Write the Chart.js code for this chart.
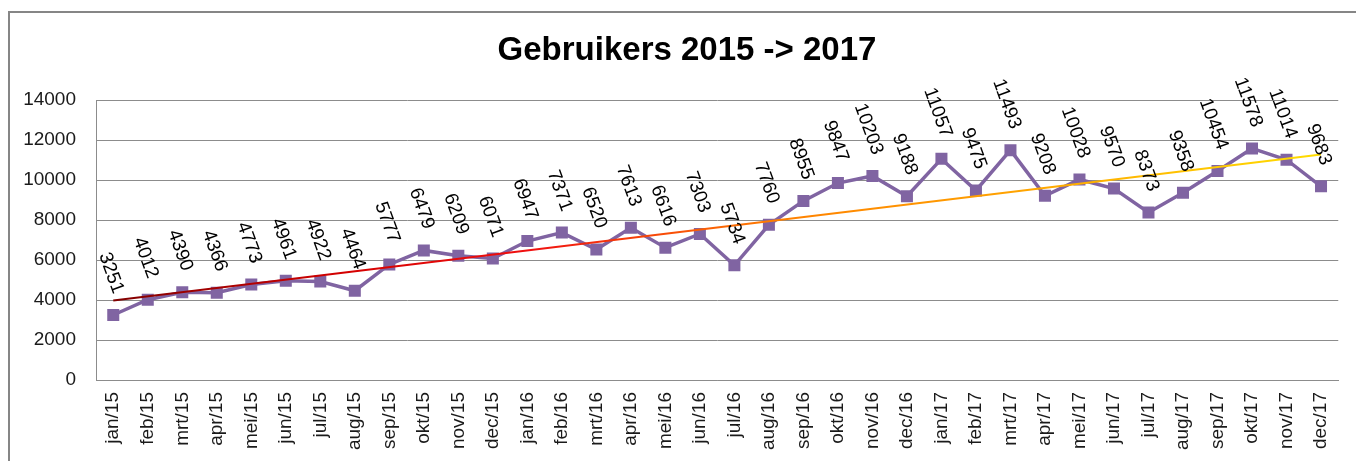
<!DOCTYPE html>
<html>
<head>
<meta charset="utf-8">
<script src="https://cdn.jsdelivr.net/npm/chart.js@4"></script>
<style>
html, body { margin: 0; padding: 0; background: #fff; }
canvas { display: block; }
</style>
</head>
<body>
<canvas id="grafiek" width="1356" height="461"></canvas>
<script>
const maanden = ['jan/15', 'feb/15', 'mrt/15', 'apr/15', 'mei/15', 'jun/15', 'jul/15', 'aug/15', 'sep/15', 'okt/15', 'nov/15', 'dec/15',
    'jan/16', 'feb/16', 'mrt/16', 'apr/16', 'mei/16', 'jun/16', 'jul/16', 'aug/16', 'sep/16', 'okt/16', 'nov/16', 'dec/16',
    'jan/17', 'feb/17', 'mrt/17', 'apr/17', 'mei/17', 'jun/17', 'jul/17', 'aug/17', 'sep/17', 'okt/17', 'nov/17', 'dec/17'];
const gebruikers = [3251, 4012, 4390, 4366, 4773, 4961, 4922, 4464, 5777, 6479, 6209, 6071,
    6947, 7371, 6520, 7613, 6616, 7303, 5734, 7760, 8955, 9847, 10203, 9188,
    11057, 9475, 11493, 9208, 10028, 9570, 8373, 9358, 10454, 11578, 11014, 9683];
const trendPunten = [3970, 11280];
const yTicks = [0, 2000, 4000, 6000, 8000, 10000, 12000, 14000];
const titel = 'Gebruikers 2015 -> 2017';

const PAARS = '#8064A2';
const GRID = '#8c8c8c';
const FONT = '"Liberation Sans", Arial, sans-serif';

// kader rond de hele grafiek + titel
const kader = {
    id: 'kader',
    beforeDraw(chart) {
        const ctx = chart.ctx;
        ctx.save();
        ctx.strokeStyle = '#868686'; ctx.lineWidth = 2;
        ctx.strokeRect(9, 12, 1400, 500);
        ctx.fillStyle = '#000';
        ctx.font = 'bold 33px ' + FONT;
        ctx.textAlign = 'center'; ctx.textBaseline = 'middle';
        ctx.fillText(titel, 687, 51);
        ctx.restore();
    }
};

// waarden boven de punten, schuin gedraaid
const labels = {
    id: 'labels',
    afterDatasetsDraw(chart) {
        const ctx = chart.ctx;
        const meta = chart.getDatasetMeta(0);
        ctx.save();
        ctx.fillStyle = '#000';
        ctx.font = '19px ' + FONT;
        ctx.textAlign = 'right'; ctx.textBaseline = 'middle';
        meta.data.forEach((p, i) => {
            ctx.save();
            ctx.translate(p.x + 5, p.y - 22);
            ctx.rotate(70 * Math.PI / 180);
            ctx.fillText(String(gebruikers[i]), 0, 0);
            ctx.restore();
        });
        ctx.restore();
    }
};

const trendKleur = c => {
    const a = c.chart.chartArea;
    if (!a) return '#d00';
    const g = c.chart.ctx.createLinearGradient(a.left, 0, a.right, 0);
    g.addColorStop(0, '#7a0000');
    g.addColorStop(0.2, '#d40000');
    g.addColorStop(0.35, '#f01010');
    g.addColorStop(0.55, '#ff8000');
    g.addColorStop(0.75, '#ffa500');
    g.addColorStop(1, '#ffe000');
    return g;
};

new Chart(document.getElementById('grafiek'), {
    type: 'line',
    data: {
        labels: maanden,
        datasets: [
            {
                data: gebruikers, order: 1,
                borderColor: PAARS, backgroundColor: PAARS, borderWidth: 3.5,
                pointStyle: 'rect', pointRadius: 8.5, pointBorderWidth: 0,
                tension: 0
            },
            {
                data: [{ x: maanden[0], y: trendPunten[0] }, { x: maanden[maanden.length - 1], y: trendPunten[1] }],
                order: 0, borderColor: trendKleur, borderWidth: 2, pointRadius: 0, tension: 0
            }
        ]
    },
    options: {
        responsive: false, animation: false,
        layout: { padding: { left: 9, right: 13, top: 100, bottom: 0 } },
        plugins: {
            legend: { display: false },
            tooltip: { enabled: false },
            title: { display: false }
        },
        scales: {
            x: {
                offset: true,
                grid: { display: false, drawTicks: false },
                border: { display: true, color: GRID },
                ticks: {
                    autoSkip: false, minRotation: 90, maxRotation: 90, padding: 12,
                    color: '#1a1a1a', font: { family: FONT, size: 19 }
                },
                afterFit: s => { s.height = 81; }
            },
            y: {
                min: 0, max: 14000,
                afterBuildTicks: s => { s.ticks = yTicks.map(v => ({ value: v })); },
                grid: { color: GRID, drawTicks: false },
                border: { display: true, color: GRID },
                ticks: {
                    padding: 20, color: '#1a1a1a',
                    font: { family: FONT, size: 19 },
                    callback: v => String(v)
                },
                afterFit: s => { s.width = 87; }
            }
        }
    },
    plugins: [kader, labels]
});
</script>
</body>
</html>
